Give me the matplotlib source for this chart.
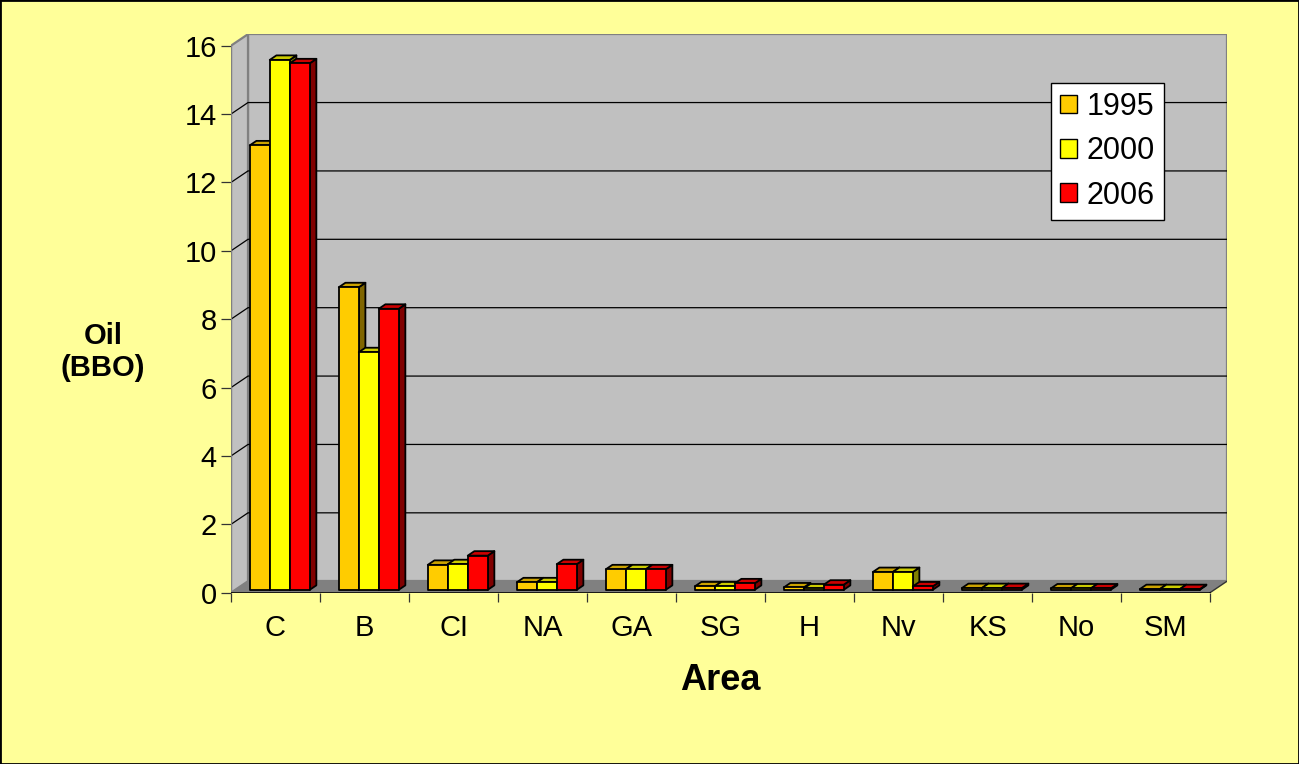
import matplotlib
matplotlib.use('Agg')
import matplotlib.pyplot as plt
from matplotlib.patches import Polygon, Patch, Rectangle
from matplotlib.colors import to_rgb

plt.rcParams['font.family'] = ['Liberation Sans', 'DejaVu Sans']

# Oil volumes by area (billion barrels of oil)
areas = ['C', 'B', 'CI', 'NA', 'GA', 'SG', 'H', 'Nv', 'KS', 'No', 'SM']
years = ['1995', '2000', '2006']
oil_1995 = [13.0, 8.85, 0.73, 0.22, 0.6, 0.1, 0.07, 0.52, 0.05, 0.04, 0.02]
oil_2000 = [15.5, 6.95, 0.75, 0.22, 0.6, 0.1, 0.04, 0.52, 0.05, 0.04, 0.02]
oil_2006 = [15.4, 8.22, 1.0, 0.75, 0.6, 0.19, 0.15, 0.1, 0.05, 0.04, 0.02]
series = [oil_1995, oil_2000, oil_2006]
colors = ['#FFCC00', '#FFFF00', '#FF0000']
yticks = list(range(0, 17, 2))

# oblique "3d" look: depth offsets in data units
DX = 0.191
DY = 0.336
Z0, Z1 = 0.25, 0.64      # bar depth range (0 = front, 1 = back wall)
BAR_W = 0.2245
YMAX = 16
N = len(areas)


def shade(c, f):
    return tuple(v * f for v in to_rgb(c))


def proj(x, y, z):
    return (x + z * DX, y + z * DY)


fig = plt.figure(figsize=(12.99, 7.64), dpi=100, facecolor='#FFFF99')

px_x = 89.0     # pixels per category
px_y = 34.19    # pixels per unit of oil
W, H = 1299, 764
left = 231 / W
bottom = (H - 592.7) / H
ax = fig.add_axes([left, bottom, (N + DX) * px_x / W, (YMAX + DY) * px_y / H])
ax.set_xlim(0, N + DX)
ax.set_ylim(0, YMAX + DY)
ax.set_facecolor('none')
for s in ax.spines.values():
    s.set_visible(False)

wall = '#C0C0C0'
wall_edge = '#808080'

# back wall and left side wall
ax.add_patch(Polygon([proj(0, 0, 1), proj(N, 0, 1), proj(N, YMAX, 1), proj(0, YMAX, 1)],
                     closed=True, facecolor=wall, edgecolor=wall_edge, lw=1.6, zorder=1))
ax.add_patch(Polygon([(0, 0), proj(0, 0, 1), proj(0, YMAX, 1), (0, YMAX)],
                     closed=True, facecolor=wall, edgecolor=wall_edge, lw=1.6, zorder=1))

# gridlines across side and back wall
for v in yticks[1:-1]:
    x0, y0 = proj(0, v, 0)
    x1, y1 = proj(0, v, 1)
    x2, y2 = proj(N, v, 1)
    ax.plot([x0, x1, x2], [y0, y1, y2], color='black', lw=0.9, zorder=2)

# floor
ax.add_patch(Polygon([(0, 0), (N, 0), proj(N, 0, 1), proj(0, 0, 1)],
                     closed=True, facecolor='#808080', edgecolor='none', zorder=3))
ax.plot([N, N + DX], [0, DY], color='#333333', lw=1.0, zorder=3)

# bars
z = 10
for i in range(N):
    start = i + (1 - BAR_W * len(series)) / 2
    for j, vals in enumerate(series):
        h = vals[i]
        x0 = start + j * BAR_W
        x1 = x0 + BAR_W
        c = colors[j]
        side = [proj(x1, 0, Z0), proj(x1, 0, Z1), proj(x1, h, Z1), proj(x1, h, Z0)]
        top = [proj(x0, h, Z0), proj(x1, h, Z0), proj(x1, h, Z1), proj(x0, h, Z1)]
        front = [proj(x0, 0, Z0), proj(x1, 0, Z0), proj(x1, h, Z0), proj(x0, h, Z0)]
        ax.add_patch(Polygon(side, closed=True, facecolor=shade(c, 0.5),
                             edgecolor='black', lw=1.3, joinstyle='round', zorder=z))
        ax.add_patch(Polygon(top, closed=True, facecolor=shade(c, 0.8),
                             edgecolor='black', lw=1.3, joinstyle='round', zorder=z + 1))
        ax.add_patch(Polygon(front, closed=True, facecolor=c,
                             edgecolor='black', lw=1.3, joinstyle='round', zorder=z + 2))
        z += 3

# front axis lines
ax.plot([0, 0], [0, YMAX], color=wall_edge, lw=1.6, zorder=4)
ax.plot([0, N], [0, 0], color='black', lw=1.2, zorder=z)

# ticks
ax.set_yticks(yticks)
ax.set_yticklabels([str(v) for v in yticks])
ax.tick_params(axis='y', direction='out', length=7.2, width=0.9, color='#333333',
               labelsize=21, pad=3.0)
ax.set_xticks(range(N + 1))
ax.set_xticklabels([])
ax.set_xticks([i + 0.5 for i in range(N)], minor=True)
ax.set_xticklabels(areas, minor=True)
ax.tick_params(axis='x', which='major', direction='out', length=6.5, width=0.9, color='#333333')
ax.tick_params(axis='x', which='minor', length=0, labelsize=21, pad=15.5)

# axis titles
fig.text(103 / W, 1 - 352 / H, 'Oil\n(BBO)', ha='center', va='center', fontsize=21,
         fontweight='bold', linespacing=1.2)
fig.text(720 / W, 1 - 681 / H, 'Area', ha='center', va='center', fontsize=26,
         fontweight='bold')

# legend
handles = [Patch(facecolor=c, edgecolor='black', lw=1.0) for c in colors]
leg = fig.legend(handles, years, loc='upper left', bbox_to_anchor=(1051 / W, 1 - 82.7 / H),
                 fontsize=22, handlelength=0.56, handleheight=0.56, handletextpad=0.3,
                 labelspacing=0.47, borderpad=0.3, borderaxespad=0, fancybox=False,
                 framealpha=1, facecolor='white', edgecolor='black')
leg.get_frame().set_linewidth(1.0)

# outer border
fig.patches.append(Rectangle((0, 0), 1, 1, transform=fig.transFigure, fill=False,
                             edgecolor='black', lw=2))

fig.savefig('out.png', dpi=100, facecolor=fig.get_facecolor())
